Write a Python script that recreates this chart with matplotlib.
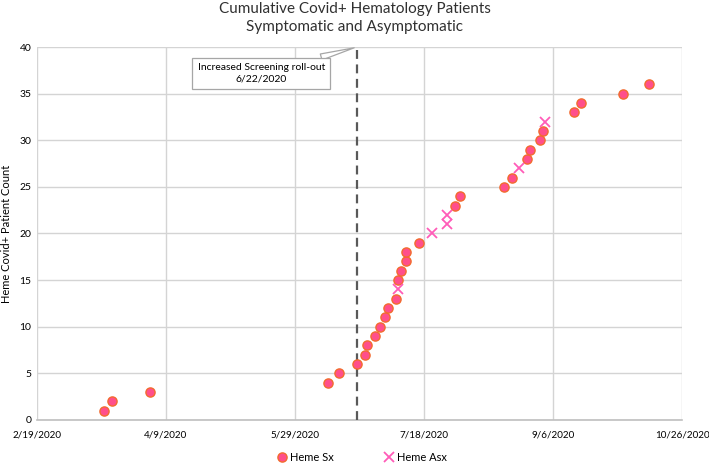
import datetime as dt
import matplotlib
matplotlib.use('Agg')
import matplotlib.pyplot as plt
import matplotlib.dates as mdates

plt.rcParams['font.family'] = ['Lato', 'DejaVu Sans']

# symptomatic (Sx) cases: date, cumulative count
sx_dates = ['2020-03-16', '2020-03-19', '2020-04-03', '2020-06-11', '2020-06-15',
            '2020-06-22', '2020-06-25', '2020-06-26', '2020-06-29', '2020-07-01',
            '2020-07-03', '2020-07-04', '2020-07-07', '2020-07-08', '2020-07-09',
            '2020-07-11', '2020-07-11', '2020-07-16', '2020-07-30', '2020-08-01',
            '2020-08-18', '2020-08-21', '2020-08-27', '2020-08-28', '2020-09-01',
            '2020-09-02', '2020-09-14', '2020-09-17', '2020-10-03', '2020-10-13']
sx_counts = [1, 2, 3, 4, 5, 6, 7, 8, 9, 10, 11, 12, 13, 15, 16, 17, 18, 19,
             23, 24, 25, 26, 28, 29, 30, 31, 33, 34, 35, 36]

# asymptomatic (Asx) cases
asx_dates = ['2020-07-08', '2020-07-21', '2020-07-27', '2020-07-27', '2020-08-24', '2020-09-03']
asx_counts = [14, 20, 21, 22, 27, 32]

tick_dates = ['2020-02-19', '2020-04-09', '2020-05-29', '2020-07-18', '2020-09-06', '2020-10-26']
rollout_date = '2020-06-22'


def to_date(s):
    return dt.datetime.strptime(s, '%Y-%m-%d')


def label(d):
    return '%d/%d/%d' % (d.month, d.day, d.year)


sx_x = [to_date(d) for d in sx_dates]
asx_x = [to_date(d) for d in asx_dates]
ticks = [to_date(d) for d in tick_dates]
rollout = to_date(rollout_date)

fig = plt.figure(figsize=(7.09, 4.66), dpi=100)
ax = fig.add_axes([0.052, 0.099, 0.91, 0.80])

ax.plot(sx_x, sx_counts, linestyle='none', marker='o', markersize=6.6,
        markerfacecolor='#FF4F8B', markeredgecolor='#F26B2E', markeredgewidth=1.0,
        label='Heme Sx', zorder=4)
ax.plot(asx_x, asx_counts, linestyle='none', marker='x', markersize=6.5,
        markeredgecolor='#FF5CB8', markeredgewidth=1.3, label='Heme Asx', zorder=4)

ax.plot([rollout, rollout], [0, 40], color='#595959', linestyle=(0, (4, 2.5)),
        linewidth=1.6, zorder=3)

ax.set_xlim(ticks[0], ticks[-1])
ax.set_ylim(0, 40)
ax.set_xticks(ticks)
ax.set_xticklabels([label(d) for d in ticks], fontsize=7.1)
ax.set_yticks(range(0, 41, 5))
ax.tick_params(axis='y', labelsize=7.5, length=0, pad=4)
ax.tick_params(axis='x', length=0, pad=8)
ax.grid(True, color='#D4D4D4', linewidth=1.0)
ax.set_axisbelow(True)
for side in ['top', 'right', 'left']:
    ax.spines[side].set_visible(False)
ax.spines['bottom'].set_color('#BFBFBF')
ax.spines['bottom'].set_linewidth(1.2)

ax.set_ylabel('Heme Covid+ Patient Count', fontsize=8, labelpad=5)

ax.annotate('Increased Screening roll-out\n6/22/2020',
            xy=(mdates.date2num(rollout), 40), xycoords='data',
            xytext=(mdates.date2num(to_date('2020-05-16')), 37.15), textcoords='data',
            ha='center', va='center', fontsize=7.5, linespacing=1.35,
            bbox=dict(boxstyle='square,pad=0.5', fc='white', ec='#A6A6A6', lw=0.9),
            arrowprops=dict(arrowstyle='wedge,tail_width=0.6,shrink_factor=0.5',
                            fc='white', ec='#A6A6A6', lw=0.9),
            zorder=5)

fig.suptitle('Cumulative Covid+ Hematology Patients\nSymptomatic and Asymptomatic',
             fontsize=11, y=0.995, linespacing=1.35, color='#303030')

fig.legend(loc='lower center', ncol=2, frameon=False, fontsize=8,
           bbox_to_anchor=(0.51, -0.015), handletextpad=0.2, columnspacing=4.5,
           handlelength=1.0)

fig.savefig('out.png', dpi=100)
